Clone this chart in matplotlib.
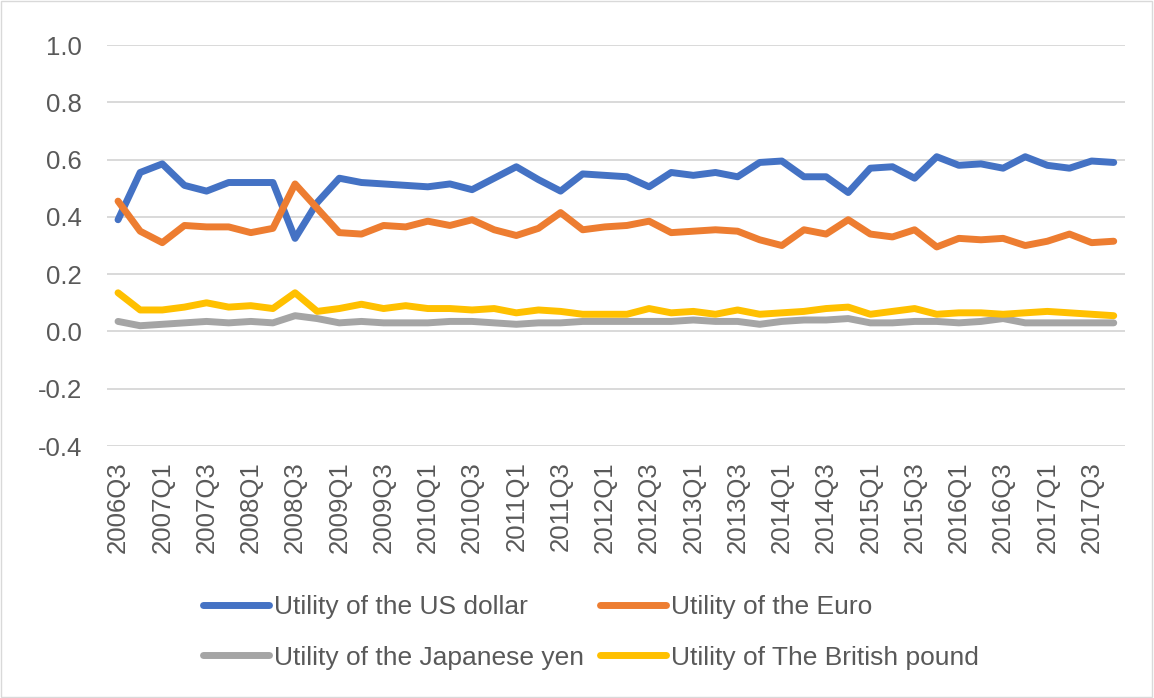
import matplotlib.pyplot as plt
from matplotlib.patches import Rectangle

plt.rcParams['font.family'] = ['Liberation Sans', 'DejaVu Sans']

# quarters 2006Q3 .. 2017Q4
quarters = []
for yr in range(2006, 2018):
    for q in range(1, 5):
        if yr == 2006 and q < 3:
            continue
        quarters.append('%dQ%d' % (yr, q))

usd = [0.39, 0.555, 0.585, 0.51, 0.49, 0.52, 0.52, 0.52, 0.325, 0.45,
       0.535, 0.52, 0.515, 0.51, 0.505, 0.515, 0.495, 0.535, 0.575, 0.53,
       0.49, 0.55, 0.545, 0.54, 0.505, 0.555, 0.545, 0.555, 0.54, 0.59,
       0.595, 0.54, 0.54, 0.485, 0.57, 0.575, 0.535, 0.61, 0.58, 0.585,
       0.57, 0.61, 0.58, 0.57, 0.595, 0.59]
euro = [0.455, 0.35, 0.31, 0.37, 0.365, 0.365, 0.345, 0.36, 0.515, 0.43,
        0.345, 0.34, 0.37, 0.365, 0.385, 0.37, 0.39, 0.355, 0.335, 0.36,
        0.415, 0.355, 0.365, 0.37, 0.385, 0.345, 0.35, 0.355, 0.35, 0.32,
        0.3, 0.355, 0.34, 0.39, 0.34, 0.33, 0.355, 0.295, 0.325, 0.32,
        0.325, 0.3, 0.315, 0.34, 0.31, 0.315]
yen = [0.035, 0.02, 0.025, 0.03, 0.035, 0.03, 0.035, 0.03, 0.055, 0.045,
       0.03, 0.035, 0.03, 0.03, 0.03, 0.035, 0.035, 0.03, 0.025, 0.03,
       0.03, 0.035, 0.035, 0.035, 0.035, 0.035, 0.04, 0.035, 0.035, 0.025,
       0.035, 0.04, 0.04, 0.045, 0.03, 0.03, 0.035, 0.035, 0.03, 0.035,
       0.045, 0.03, 0.03, 0.03, 0.03, 0.03]
pound = [0.135, 0.075, 0.075, 0.085, 0.1, 0.085, 0.09, 0.08, 0.135, 0.07,
         0.08, 0.095, 0.08, 0.09, 0.08, 0.08, 0.075, 0.08, 0.065, 0.075,
         0.07, 0.06, 0.06, 0.06, 0.08, 0.065, 0.07, 0.06, 0.075, 0.06,
         0.065, 0.07, 0.08, 0.085, 0.06, 0.07, 0.08, 0.06, 0.065, 0.065,
         0.06, 0.065, 0.07, 0.065, 0.06, 0.055]

series = [
    ('Utility of the US dollar', usd, '#4472C4'),
    ('Utility of the Euro', euro, '#ED7D31'),
    ('Utility of the Japanese yen', yen, '#A5A5A5'),
    ('Utility of The British pound', pound, '#FFC000'),
]

fig = plt.figure(figsize=(11.54, 6.98), dpi=100)
ax = fig.add_axes([0.0927, 0.361, 0.882, 0.5745])

x = list(range(len(quarters)))
lines = []
for name, vals, col in series:
    ln, = ax.plot(x, vals, color=col, lw=5, label=name,
                  solid_capstyle='round', solid_joinstyle='round')
    lines.append(ln)

ax.set_xlim(-0.5, len(quarters) - 0.5)
ax.set_ylim(-0.4, 1.0)
ax.set_yticks([-0.4, -0.2, 0.0, 0.2, 0.4, 0.6, 0.8, 1.0])
ax.set_yticklabels(['%.1f' % v for v in ax.get_yticks()])
ax.set_xticks(x[::2])
ax.set_xticklabels(quarters[::2], rotation=90, va='top', ha='center')
ax.tick_params(axis='both', length=0, labelsize=18.5, colors='#595959')
ax.tick_params(axis='y', pad=18)
ax.tick_params(axis='x', pad=11)
ax.grid(axis='y', color='#d9d9d9', lw=1.4)
ax.set_axisbelow(True)
for s in ax.spines.values():
    s.set_visible(False)

# legend fills by column, so order for row-wise layout
order = [0, 2, 1, 3]
leg = fig.legend([lines[i] for i in order], [series[i][0] for i in order],
                 loc='center', bbox_to_anchor=(0.512, 0.094), ncol=2,
                 frameon=False, fontsize=19, handlelength=2.5,
                 handletextpad=0.19, columnspacing=0.6, labelspacing=1.0,
                 borderpad=0)
for t in leg.get_texts():
    t.set_color('#595959')

fig.patches.append(Rectangle((0.001, 0.001), 0.997, 0.997, transform=fig.transFigure,
                             fill=False, edgecolor='#d9d9d9', lw=1))

fig.savefig('out.png', dpi=100)
